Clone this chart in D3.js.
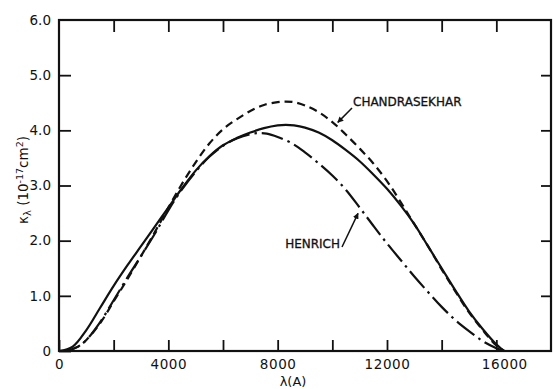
<!DOCTYPE html>
<html>
<head>
<meta charset="utf-8">
<script src="https://cdn.jsdelivr.net/npm/d3@7"></script>
<style>
  body { margin: 0; background: #fff; }
  svg { display: block; }
  text { font-family: "DejaVu Sans", sans-serif; fill: #111; }
</style>
</head>
<body>
<div class="chart"></div>
<script>
// wavelength grid (Angstrom) and absorption coefficient (1e-17 cm^2)
const lamSolid = [0, 500, 1000, 1500, 2000, 2500, 3000, 3500, 4000, 4500, 5000, 5500, 6000, 6500, 7000, 7500, 8000, 8300, 8600, 9000, 9500, 10000, 10500, 11000, 11500, 12000, 12500, 13000, 13500, 14000, 14500, 15000, 15500, 16000, 16280];
const kSolid   = [0, 0.08, 0.38, 0.78, 1.18, 1.55, 1.9, 2.25, 2.6, 2.95, 3.27, 3.53, 3.73, 3.86, 3.96, 4.04, 4.09, 4.1, 4.09, 4.05, 3.96, 3.82, 3.64, 3.44, 3.2, 2.94, 2.64, 2.3, 1.9, 1.5, 1.1, 0.72, 0.4, 0.12, 0];

const lamChandra = [0, 300, 700, 1000, 1500, 2000, 2500, 3000, 3500, 4000, 4500, 5000, 5500, 6000, 6500, 7000, 7500, 8000, 8300, 8600, 9000, 9500, 10000, 10500, 11000, 11500, 12000, 12500, 13000, 13500, 14000, 14500, 15000, 15500, 16000, 16300];
const kChandra   = [0, 0.01, 0.08, 0.2, 0.5, 0.9, 1.3, 1.72, 2.15, 2.6, 3.03, 3.42, 3.76, 4.02, 4.2, 4.35, 4.46, 4.51, 4.52, 4.51, 4.45, 4.33, 4.15, 3.92, 3.67, 3.4, 3.08, 2.7, 2.3, 1.9, 1.48, 1.08, 0.7, 0.38, 0.1, 0];

const lamHenrich = [0, 300, 700, 1000, 1500, 2000, 2500, 3000, 3500, 4000, 4500, 5000, 5500, 6000, 6500, 7000, 7300, 7600, 8000, 8500, 9000, 9500, 10000, 10500, 11000, 11500, 12000, 12500, 13000, 13500, 14000, 14500, 15000, 15500, 16000, 16250];
const kHenrich   = [0, 0.01, 0.08, 0.2, 0.52, 0.92, 1.33, 1.72, 2.12, 2.55, 2.93, 3.25, 3.52, 3.72, 3.85, 3.93, 3.95, 3.94, 3.88, 3.77, 3.6, 3.4, 3.18, 2.92, 2.6, 2.27, 1.95, 1.65, 1.35, 1.07, 0.8, 0.56, 0.36, 0.18, 0.05, 0];

const xTicks = [0, 2000, 4000, 6000, 8000, 10000, 12000, 14000, 16000];
const xLabels = [0, 4000, 8000, 12000, 16000];
const yTicks = [0, 1, 2, 3, 4, 5, 6];

const width = 553;
const height = 389;

const x = d3.scaleLinear().domain([0, 18000]).range([59, 551]);
const y = d3.scaleLinear().domain([0, 6]).range([351, 20]);

const svg = d3.select("div.chart")
  .append("svg")
  .attr("width", width)
  .attr("height", height);

// arrow head
svg.append("defs").append("marker")
  .attr("id", "head")
  .attr("viewBox", "0 0 10 10")
  .attr("refX", 9).attr("refY", 5)
  .attr("markerWidth", 6).attr("markerHeight", 6)
  .attr("markerUnits", "userSpaceOnUse")
  .attr("orient", "auto")
  .append("path")
  .attr("d", "M0,0 L10,5 L0,10 Z")
  .attr("fill", "#111");

// bottom axis (ticks inward, labels at every other tick)
const xAxis = svg.append("g")
  .attr("transform", `translate(0,${y(0)})`)
  .call(d3.axisBottom(x).tickValues(xTicks).tickSize(-11).tickPadding(8)
    .tickFormat(d => xLabels.includes(d) ? String(d) : ""));
xAxis.selectAll("text").style("font-size", "13.5px").style("letter-spacing", "0.6px");
xAxis.selectAll("text").filter(d => d === 16000).attr("dx", 8);

// top axis (ticks only)
svg.append("g")
  .attr("transform", `translate(0,${y(6)})`)
  .call(d3.axisTop(x).tickValues(xTicks.slice(1)).tickSize(-12).tickFormat(""));

// left axis
const yAxis = svg.append("g")
  .attr("transform", `translate(${x(0)},0)`)
  .call(d3.axisLeft(y).tickValues(yTicks).tickSize(-12).tickPadding(8)
    .tickFormat(d => d === 0 ? "0" : d3.format(".1f")(d)));
yAxis.selectAll("text").style("font-size", "13.5px");
yAxis.selectAll(".tick").filter(d => d === 6).select("line").remove();

// right axis (ticks only)
svg.append("g")
  .attr("transform", `translate(${x(18000)},0)`)
  .call(d3.axisRight(y).tickValues(yTicks.slice(1, 6)).tickSize(-10).tickFormat(""));

svg.selectAll(".domain").remove();
svg.selectAll(".tick line").attr("stroke", "#111").attr("stroke-width", 1.8);

// frame
svg.append("rect")
  .attr("x", x(0)).attr("y", y(6))
  .attr("width", x(18000) - x(0))
  .attr("height", y(0) - y(6))
  .attr("fill", "none")
  .attr("stroke", "#111")
  .attr("stroke-width", 2.2);

// curves
const line = d3.line()
  .x(d => x(d[0]))
  .y(d => y(d[1]))
  .curve(d3.curveCatmullRom.alpha(0.5));

const series = [
  { lam: lamSolid, k: kSolid, dash: null },
  { lam: lamChandra, k: kChandra, dash: "8,5" },
  { lam: lamHenrich, k: kHenrich, dash: "22,5,2.5,5" }
];

svg.append("g")
  .selectAll("path")
  .data(series)
  .join("path")
  .attr("d", s => line(d3.zip(s.lam, s.k)))
  .attr("fill", "none")
  .attr("stroke", "#111")
  .attr("stroke-width", 2.2)
  .attr("stroke-dasharray", s => s.dash);

// annotations
svg.append("text")
  .attr("x", 353).attr("y", 106)
  .style("font-size", "12px")
  .attr("stroke", "#111").attr("stroke-width", 0.3)
  .text("CHANDRASEKHAR");

svg.append("line")
  .attr("x1", 352).attr("y1", 108)
  .attr("x2", x(10200)).attr("y2", y(4.09) - 3)
  .attr("stroke", "#111").attr("stroke-width", 1.5)
  .attr("marker-end", "url(#head)");

svg.append("text")
  .attr("x", 340).attr("y", 248)
  .attr("text-anchor", "end")
  .style("font-size", "12px")
  .attr("stroke", "#111").attr("stroke-width", 0.3)
  .text("HENRICH");

svg.append("line")
  .attr("x1", 342).attr("y1", 247)
  .attr("x2", x(11050) - 3).attr("y2", y(2.55) + 3)
  .attr("stroke", "#111").attr("stroke-width", 1.5)
  .attr("marker-end", "url(#head)");

// axis titles
const yTitle = svg.append("text")
  .attr("transform", "translate(28,180) rotate(-90)")
  .attr("text-anchor", "middle")
  .style("font-size", "13.5px");
yTitle.append("tspan").text("κ");
yTitle.append("tspan").attr("baseline-shift", "-25%").style("font-size", "10px").text("λ");
yTitle.append("tspan").text(" (10");
yTitle.append("tspan").attr("baseline-shift", "super").style("font-size", "9.5px").text("-17");
yTitle.append("tspan").text("cm");
yTitle.append("tspan").attr("baseline-shift", "super").style("font-size", "9.5px").text("2");
yTitle.append("tspan").text(")");

svg.append("text")
  .attr("x", 293).attr("y", 386)
  .attr("text-anchor", "middle")
  .style("font-size", "13px")
  .text("λ(A)");
</script>
</body>
</html>
